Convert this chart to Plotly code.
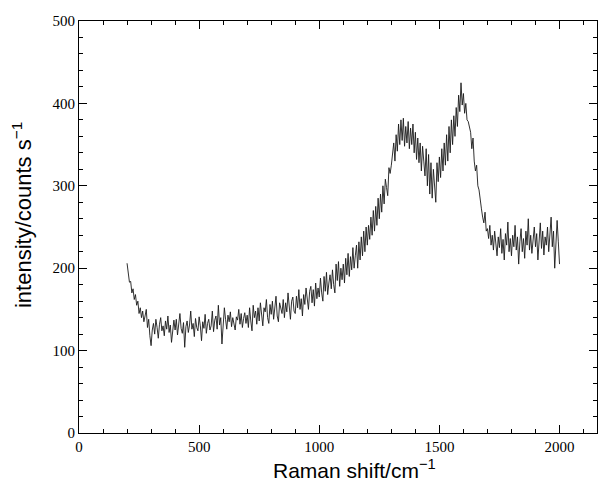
import plotly.graph_objects as go

# Raman shift axis: 200 .. 2000 cm-1, step 5
x_start = 200
x_step = 5

intensity = [
    206, 190, 183, 184, 170, 175, 162, 168, 155, 160,
    145, 152, 140, 148, 135, 142, 150, 128, 138, 118,
    106, 125, 133, 120, 138, 128, 115, 132, 140, 124,
    130, 118, 136, 126, 142, 122, 131, 110, 128, 137,
    125, 138, 119, 130, 145, 127, 121, 134, 104, 129,
    136, 122, 131, 148, 126, 133, 117, 139, 128, 124,
    141, 130, 112, 135, 127, 144, 121, 133, 138, 125,
    130, 148, 123, 137, 142, 126, 155, 131, 140, 108,
    130, 152, 138, 126, 143, 135, 147, 129, 140, 134,
    125, 141, 137, 150, 132, 145, 128, 139, 146, 133,
    143, 128, 152, 136, 124, 155, 140, 148, 132, 152,
    136, 158, 144, 130, 152, 147, 162, 140, 133, 156,
    144, 160, 138, 155, 166, 142, 135, 158, 150, 145,
    162, 140, 158, 147, 170, 150, 138, 160, 165, 148,
    145, 166, 152, 174, 150, 163, 142, 168, 156, 176,
    158, 150, 172, 178, 158, 174, 154, 182, 163, 176,
    165, 188, 170, 160, 190, 172, 195, 168, 182, 192,
    175, 198, 180, 170, 205, 185, 208, 178, 200, 186,
    205, 182, 212, 192, 218, 190, 214, 198, 225, 200,
    215, 228, 200, 232, 210, 238, 215, 245, 220, 250,
    228, 252, 235, 262, 240, 270, 245, 275, 252, 285,
    260, 290, 268, 300, 278, 308, 298, 288, 322, 315,
    325, 340, 352, 330, 362, 342, 375, 350, 380, 355,
    382, 348, 372, 352, 378, 345, 370, 350, 375, 340,
    365, 332, 358, 328, 352, 318, 348, 330, 312, 345,
    300, 338, 290, 328, 285, 320, 298, 280, 328, 305,
    335, 310, 345, 318, 352, 325, 362, 330, 372, 340,
    380, 350, 385, 360, 395, 372, 410, 390, 425, 398,
    412, 388, 400, 380, 378, 372, 365, 345, 358, 330,
    318, 325, 300, 295, 280, 272, 262, 255, 268, 245,
    248, 236, 252, 228, 240, 222, 245, 230, 215, 238,
    225, 248, 218, 235, 210, 242, 228, 256, 220, 236,
    215, 240, 226, 252, 222, 238, 205, 232, 248, 220,
    236, 212, 245, 228, 260, 222, 240, 218, 232, 250,
    226, 242, 210, 236, 255, 224, 245, 216, 238, 228,
    250, 220, 240, 262, 226, 245, 200, 235, 258, 232,
    205,
]
raman_shift = [x_start + x_step * i for i in range(len(intensity))]

x_ticks = [0, 500, 1000, 1500, 2000]
y_ticks = [0, 100, 200, 300, 400, 500]
x_title = "Raman shift/cm<sup>−1</sup>"
y_title = "intensity/counts s<sup>−1</sup>"

fig = go.Figure()
fig.add_trace(go.Scatter(
    x=raman_shift, y=intensity, mode="lines",
    line=dict(color="#1a1a1a", width=0.9),
    showlegend=False,
))

tickfont = dict(family="Liberation Serif", size=15, color="black")

fig.update_xaxes(
    range=[0, 2156], tickvals=x_ticks, ticktext=[str(v) for v in x_ticks],
    ticks="inside", ticklen=8, tickwidth=1, tickcolor="black",
    minor=dict(dtick=100, tick0=0, ticks="inside", ticklen=4, tickcolor="black"),
    showline=True, linecolor="black", linewidth=1, mirror="allticks",
    showgrid=False, zeroline=False, tickfont=tickfont,
)
fig.update_yaxes(
    range=[0, 500], tickvals=y_ticks, ticktext=[str(v) for v in y_ticks],
    ticks="inside", ticklen=8, tickwidth=1, tickcolor="black",
    minor=dict(dtick=20, tick0=0, ticks="inside", ticklen=4, tickcolor="black"),
    showline=True, linecolor="black", linewidth=1, mirror="allticks",
    showgrid=False, zeroline=False, tickfont=tickfont,
)
fig.add_annotation(
    text=x_title, xref="paper", yref="paper", x=0.531, y=-0.088,
    xanchor="center", yanchor="middle", showarrow=False,
    font=dict(family="Liberation Sans", size=21, color="black"),
)
fig.add_annotation(
    text=y_title, xref="paper", yref="paper", x=-0.110, y=0.529,
    xanchor="center", yanchor="middle", textangle=-90, showarrow=False,
    font=dict(family="Liberation Sans", size=22, color="black"),
)
fig.update_layout(
    width=599, height=487,
    margin=dict(l=79, r=2, t=21, b=54),
    paper_bgcolor="white", plot_bgcolor="white",
)
fig.write_html("out.html")
